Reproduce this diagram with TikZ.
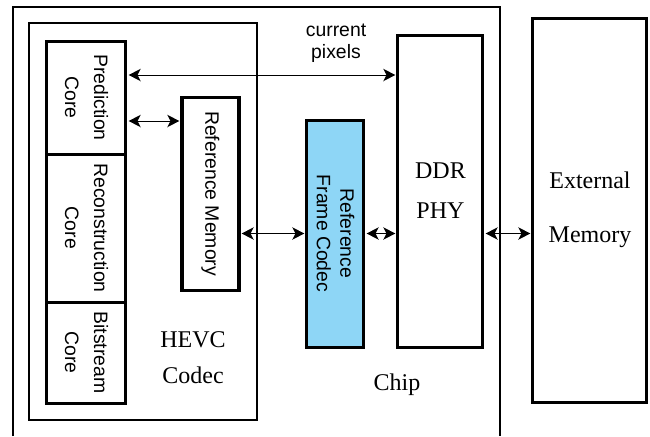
\documentclass[tikz,border=0pt]{standalone}
\usepackage{fontspec}
\setmainfont{Liberation Serif}
\setsansfont{Liberation Sans}
\usetikzlibrary{arrows.meta}
\definecolor{codecblue}{RGB}{142,214,246}

\begin{document}
\begin{tikzpicture}[x=0.5pt, y=-0.5pt, >={Stealth[length=6pt, width=6.2pt, inset=1.6pt]},
    block/.style={draw, line width=1.5pt, inner sep=0pt},
    frame/.style={draw, line width=0.6pt},
    link/.style={<->, line width=0.5pt, shorten <=0.6pt, shorten >=0.6pt},
    vtext/.style={rotate=-90, align=center, font=\sffamily\fontsize{9.7}{#1}\selectfont},
    vtext/.default=12,
    stext/.style={align=center, font=\fontsize{12}{#1}\selectfont},
    stext/.default=14]
    % 1. Khung hình
    \useasboundingbox (0,0) rectangle (650,436);

    % 2. Khung Chip (hở đáy) và khung HEVC Codec
    \draw[frame] (13,436) -- (13,7) -- (500,7) -- (500,436);
    \draw[frame] (29,23) rectangle (257,420);

    % 3. Các lõi của HEVC Codec
    \node[block, minimum width=39.5pt, minimum height=56.5pt] (pred) at (86.5,97.5) {};
    \node[block, minimum width=39.5pt, minimum height=74pt] (recon) at (86.5,228) {};
    \node[block, minimum width=39.5pt, minimum height=50.5pt] (bits) at (86.5,352.5) {};
    \node[vtext=14.5] (predt) at (pred) {Prediction\\Core};
    \node[vtext=14.5] (recont) at (recon) {Reconstruction\\Core};
    \node[vtext=14.5] (bitst) at (bits) {Bitstream\\Core};

    % 4. Reference Memory và Reference Frame Codec
    \node[block, minimum width=28.5pt, minimum height=96.5pt] (refmem) at (210.5,193.5) {};
    \node[vtext] (refmemt) at (refmem) {Reference Memory};
    \node[block, fill=codecblue, minimum width=28.5pt, minimum height=113.5pt] (rfc) at (335.5,233.5) {};
    \node[vtext=11.7] (rfct) at (rfc) {Reference\\Frame Codec};

    % 5. DDR PHY và External Memory
    \node[block, stext=20, minimum width=42.5pt, minimum height=156pt] (ddr) at (440.5,191) {DDR\\PHY};
    \node[block, stext=27, minimum width=57pt, minimum height=192pt] (ext) at (590,210) {External\\Memory};

    % 6. Các mũi tên hai chiều
    \coordinate (cpix) at (300,75);
    \coordinate (pmem) at (150,121);
    \draw[link] (pred.east |- cpix) -- (ddr.west |- cpix);
    \draw[link] (pred.east |- pmem) -- (refmem.west |- pmem);
    \draw[link] (refmem.east |- rfc.west) -- (rfc.west);
    \draw[link] (rfc.east) -- (ddr.west |- rfc.east);
    \draw[link] (ddr.east |- rfc.east) -- (ext.west |- rfc.east);

    % 7. Nhãn
    \node[align=center, font=\sffamily\fontsize{9.7}{11}\selectfont] (cpixt) at (336,43) {current\\pixels};
    \node[stext=18] (hevc) at (193,358) {HEVC\\Codec};
    \node[stext] (chip) at (397,385) {Chip};
\end{tikzpicture}
\end{document}
